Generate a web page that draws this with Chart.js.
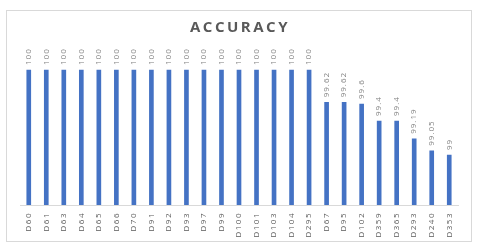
<!DOCTYPE html>
<html>
<head>
<meta charset="utf-8">
<script src="https://cdn.jsdelivr.net/npm/chart.js@4/dist/chart.umd.min.js"></script>
<style>
  html, body { margin: 0; padding: 0; background: #fff; }
  #box {
    position: absolute; left: 6px; top: 10px;
    width: 464px; height: 230px;
    border: 1px solid #d9d9d9;
  }
</style>
</head>
<body>
<div id="box"><canvas id="accChart"></canvas></div>
<script>
// chart data
const TITLE = 'ACCURACY';
const categories = ['D60', 'D61', 'D63', 'D64', 'D65', 'D66', 'D70', 'D91', 'D92', 'D93', 'D97', 'D99',
  'D100', 'D101', 'D103', 'D104', 'D295', 'D67', 'D95', 'D102', 'D359', 'D365', 'D293', 'D240', 'D353'];
const accuracy = [100, 100, 100, 100, 100, 100, 100, 100, 100, 100, 100, 100,
  100, 100, 100, 100, 100, 99.62, 99.62, 99.6, 99.4, 99.4, 99.19, 99.05, 99];

// ++++++++++++ plugins: spaced title, rotated value + category labels ++++++++++++

const titlePlugin = {
  id: 'spacedTitle',
  afterDraw(chart) {
    const ctx = chart.ctx;
    ctx.save();
    ctx.letterSpacing = '2.5px';
    ctx.font = 'bold 15px "Open Sans"';
    ctx.fillStyle = '#595959';
    ctx.textAlign = 'center';
    ctx.textBaseline = 'middle';
    ctx.fillText(TITLE, chart.width / 2 + 1, 17);
    ctx.restore();
  }
};

function rotatedText(ctx, text, x, y, align) {
  ctx.save();
  ctx.translate(x, y);
  ctx.rotate(-Math.PI / 2);
  ctx.textAlign = align;
  ctx.fillText(text, 0, 0);
  ctx.restore();
}

const valueLabels = {
  id: 'valueLabels',
  afterDatasetsDraw(chart) {
    const ctx = chart.ctx;
    const meta = chart.getDatasetMeta(0);
    ctx.save();
    ctx.letterSpacing = '1px';
    ctx.font = '8px "Open Sans"';
    ctx.fillStyle = '#808080';
    ctx.textBaseline = 'middle';
    meta.data.forEach((bar, i) => {
      rotatedText(ctx, String(accuracy[i]), bar.x, bar.y - 5, 'left');
    });
    ctx.restore();
  }
};

const categoryLabels = {
  id: 'categoryLabels',
  afterDraw(chart) {
    const ctx = chart.ctx;
    const xs = chart.scales.x;
    ctx.save();
    ctx.letterSpacing = '1.5px';
    ctx.font = '8px "Open Sans"';
    ctx.fillStyle = '#595959';
    ctx.textBaseline = 'middle';
    categories.forEach((c, i) => {
      rotatedText(ctx, c, xs.getPixelForTick(i), chart.chartArea.bottom + 7, 'right');
    });
    ctx.restore();
  }
};

var canvas = document.getElementById('accChart').getContext('2d');
var accChart = new Chart(canvas, {
  type: 'bar',
  data: {
    labels: categories,
    datasets: [{
      label: 'Accuracy',
      data: accuracy,
      backgroundColor: '#4472C4',
      barThickness: 4,
    }]
  },
  options: {
    responsive: true,
    maintainAspectRatio: false,
    animation: false,
    layout: { padding: { left: 13, right: 13, top: 35, bottom: 0 } },
    plugins: {
      legend: { display: false },
      title: { display: false },
      tooltip: { enabled: false }
    },
    scales: {
      x: {
        grid: { display: false },
        border: { display: true, color: '#d9d9d9' },
        ticks: { display: false },
        afterFit(scale) { scale.height = 36; }
      },
      y: {
        display: false,
        min: 98.412,
        max: 100.282
      }
    }
  },
  plugins: [valueLabels, categoryLabels, titlePlugin]
});
</script>
</body>
</html>
